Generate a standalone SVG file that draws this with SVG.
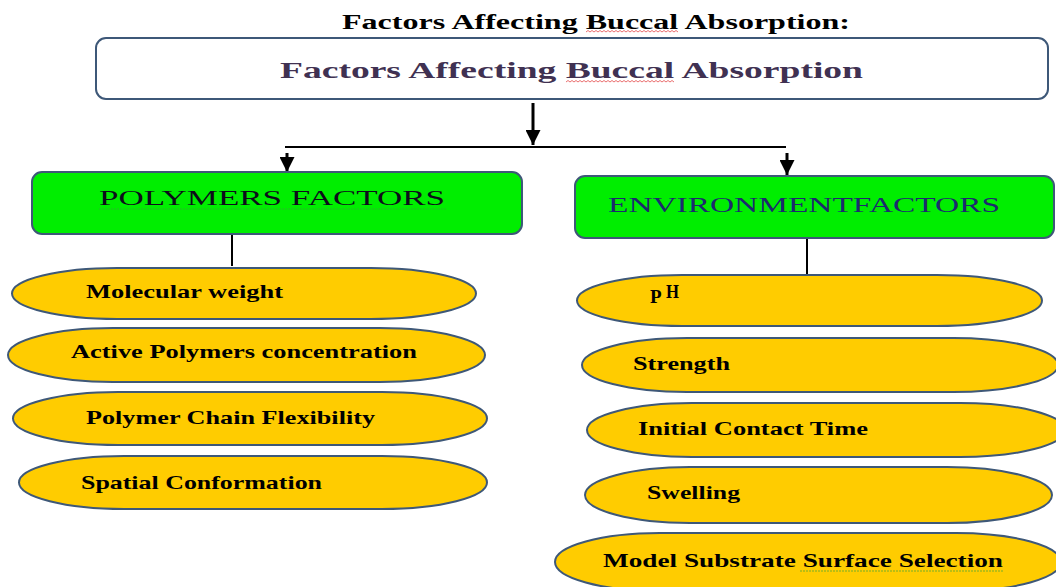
<svg xmlns="http://www.w3.org/2000/svg" width="1056" height="587" viewBox="0 0 1056 587">
<style>
.box{stroke:#3e5878;stroke-width:2}
.main{fill:#ffffff}
.green{fill:#00ee00}
.ell{fill:#ffcc00;stroke:#3e5878;stroke-width:2}
.t{font-family:"Liberation Serif","Times New Roman",serif;font-weight:bold}
.et{font-family:"Liberation Serif","Times New Roman",serif;font-weight:bold;font-size:19px;fill:#000}
.line{stroke:#000;stroke-width:2;fill:none}
.arr{stroke:#000;stroke-width:3;fill:none}
.wr{fill:none;stroke:#e03030;stroke-width:0.7}
.wg{fill:none;stroke:#3aa03a;stroke-width:0.7}
</style>
<defs>
<marker id="ah" viewBox="0 0 10 10" refX="10" refY="5" markerWidth="5" markerHeight="5" markerUnits="strokeWidth" orient="auto">
<path d="M0,0 L10,5 L0,10 z" fill="#000"/>
</marker>
</defs>
<rect width="1056" height="587" fill="#ffffff"/>

<text class="t" x="342" y="29" font-size="20" textLength="508" lengthAdjust="spacingAndGlyphs" fill="#000">Factors Affecting Buccal Absorption:</text>
<path class="wr" d="M586,32 l2,-1.5 l2,1.5 l2,-1.5 l2,1.5 l2,-1.5 l2,1.5 l2,-1.5 l2,1.5 l2,-1.5 l2,1.5 l2,-1.5 l2,1.5 l2,-1.5 l2,1.5 l2,-1.5 l2,1.5 l2,-1.5 l2,1.5 l2,-1.5 l2,1.5 l2,-1.5 l2,1.5 l2,-1.5 l2,1.5 l2,-1.5 l2,1.5 l2,-1.5 l2,1.5 l2,-1.5 l2,1.5 l2,-1.5 l2,1.5 l2,-1.5 l2,1.5 l2,-1.5 l2,1.5 l2,-1.5 l2,1.5 l2,-1.5 l2,1.5 l2,-1.5 l2,1.5 l2,-1.5 l2,1.5 l2,-1.5 l2,1.5"/>

<g id="main">
<rect class="box main" x="96" y="38" width="952" height="61" rx="10"/>
<text class="t" x="280" y="78" font-size="24" textLength="583" lengthAdjust="spacingAndGlyphs" fill="#403152">Factors Affecting Buccal Absorption</text>
<path class="wr" d="M566,82 l2,-1.5 l2,1.5 l2,-1.5 l2,1.5 l2,-1.5 l2,1.5 l2,-1.5 l2,1.5 l2,-1.5 l2,1.5 l2,-1.5 l2,1.5 l2,-1.5 l2,1.5 l2,-1.5 l2,1.5 l2,-1.5 l2,1.5 l2,-1.5 l2,1.5 l2,-1.5 l2,1.5 l2,-1.5 l2,1.5 l2,-1.5 l2,1.5 l2,-1.5 l2,1.5 l2,-1.5 l2,1.5 l2,-1.5 l2,1.5 l2,-1.5 l2,1.5 l2,-1.5 l2,1.5 l2,-1.5 l2,1.5 l2,-1.5 l2,1.5 l2,-1.5 l2,1.5 l2,-1.5 l2,1.5 l2,-1.5 l2,1.5 l2,-1.5 l2,1.5 l2,-1.5 l2,1.5 l2,-1.5 l2,1.5 l2,-1.5 l2,1.5"/>
</g>

<g id="connectors">
<line class="arr" x1="533" y1="103" x2="533" y2="145" marker-end="url(#ah)"/>
<line class="line" x1="285" y1="147" x2="786" y2="147"/>
<line class="arr" x1="287" y1="153" x2="287" y2="172" marker-end="url(#ah)"/>
<line class="arr" x1="787" y1="153" x2="787" y2="175" marker-end="url(#ah)"/>
<line class="line" x1="232" y1="235" x2="232" y2="266"/>
<line class="line" x1="807" y1="239" x2="807" y2="277"/>
</g>

<g id="polymers">
<rect class="box green" x="32" y="172" width="490" height="62" rx="10"/>
<text x="99" y="205" font-family="'Liberation Serif','Times New Roman',serif" font-size="20" textLength="346" lengthAdjust="spacingAndGlyphs" fill="#0d0d1a">POLYMERS  FACTORS</text>
<path class="wg" d="M99,209 h347" stroke-dasharray="2,1"/>
</g>

<g id="environment">
<rect class="box green" x="575" y="176" width="479" height="62" rx="10"/>
<text x="608" y="212" font-family="'Liberation Serif','Times New Roman',serif" font-size="21" textLength="392" lengthAdjust="spacingAndGlyphs" fill="#1c2a6e">ENVIRONMENTFACTORS</text>
</g>

<g id="molecular-weight">
<rect class="ell" x="12" y="268" width="464" height="51" rx="105" ry="25.5"/>
<text class="et" x="86" y="298" textLength="197" lengthAdjust="spacingAndGlyphs">Molecular  weight</text>
</g>
<g id="active-polymers">
<rect class="ell" x="8" y="328" width="477" height="54" rx="105" ry="27"/>
<text class="et" x="71" y="358" textLength="346" lengthAdjust="spacingAndGlyphs">Active Polymers  concentration</text>
</g>
<g id="chain-flexibility">
<rect class="ell" x="13" y="392" width="474" height="53" rx="105" ry="26.5"/>
<text class="et" x="86" y="424" textLength="289" lengthAdjust="spacingAndGlyphs">Polymer  Chain  Flexibility</text>
</g>
<g id="spatial-conformation">
<rect class="ell" x="19" y="456" width="468" height="53" rx="105" ry="26.5"/>
<text class="et" x="81" y="489" textLength="241" lengthAdjust="spacingAndGlyphs">Spatial  Conformation</text>
</g>

<g id="ph">
<rect class="ell" x="577" y="275" width="465" height="51" rx="105" ry="25.5"/>
<text class="et" x="650" y="303" font-size="18">P</text>
<text class="et" x="666" y="298" font-size="11" textLength="13" lengthAdjust="spacingAndGlyphs">H</text>
</g>
<g id="strength">
<rect class="ell" x="582" y="338" width="476" height="54" rx="105" ry="27"/>
<text class="et" x="633" y="370" textLength="97" lengthAdjust="spacingAndGlyphs">Strength</text>
</g>
<g id="initial-contact-time">
<rect class="ell" x="587" y="403" width="478" height="54" rx="105" ry="27"/>
<text class="et" x="638" y="435" textLength="230" lengthAdjust="spacingAndGlyphs">Initial  Contact  Time</text>
</g>
<g id="swelling">
<rect class="ell" x="585" y="467" width="467" height="56" rx="105" ry="28"/>
<text class="et" x="647" y="499" textLength="93" lengthAdjust="spacingAndGlyphs">Swelling</text>
</g>
<g id="model-substrate">
<rect class="ell" x="555" y="533" width="506" height="58" rx="105" ry="29"/>
<text class="et" x="603" y="567" textLength="400" lengthAdjust="spacingAndGlyphs">Model Substrate  Surface  Selection</text>
<path class="wg" d="M800,571 h203" stroke-dasharray="2,1"/>
</g>
</svg>
